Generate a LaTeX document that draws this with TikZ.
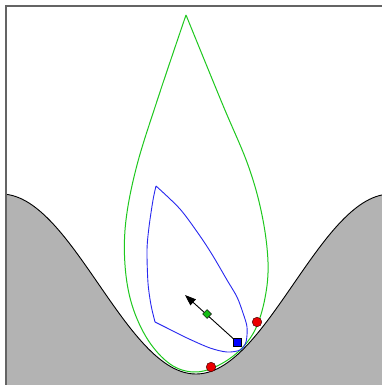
\documentclass[tikz,border=0pt]{standalone}
\usetikzlibrary{arrows.meta,shapes.geometric}
\definecolor{groundgray}{RGB}{179,179,179}
\definecolor{framegray}{RGB}{100,100,100}
\definecolor{leafgreen}{RGB}{30,200,30}
\definecolor{leafblue}{RGB}{40,40,240}
\definecolor{markred}{RGB}{235,0,0}
\definecolor{markgreen}{RGB}{20,190,20}
\begin{document}
\begin{tikzpicture}[x=1pt,y=-1pt,
  groundline/.style={black,line width=0.9pt},
  greencurve/.style={leafgreen,line width=1pt},
  bluecurve/.style={leafblue,line width=0.9pt},
  redmark/.style={circle,draw=black!70!red,fill=markred,line width=0.5pt,minimum size=9.5pt,inner sep=0pt},
  squaremark/.style={rectangle,draw=black,fill=blue,line width=0.5pt,minimum size=7.5pt,inner sep=0pt},
  diamondmark/.style={diamond,draw=black,fill=markgreen,line width=0.5pt,minimum size=9pt,inner sep=0pt},
  arrowline/.style={black,line width=0.9pt,-{Triangle[length=11pt,width=8pt]}}]
\useasboundingbox (0,0) rectangle (382,385);
\fill[white] (0,0) rectangle (382,385);
% ground
\fill[groundgray] (6,385) -- plot[domain=6:382,samples=120] (\x,{374-90*(1-cos(((\x-196)/195)*180))}) -- (382,385) -- cycle;
\draw[groundline] plot[domain=6:382,samples=120] (\x,{374-90*(1-cos(((\x-196)/195)*180))});
% green teardrop
\draw[greencurve] plot[smooth,tension=0.6] coordinates {(186,15) (158,98) (137,165) (126,220) (125,265) (132,305) (148,340) (170,364) (193,372) (215,367) (238,352) (255,330) (265,298) (268,262) (262,215) (248,165) (222,103) (186,15)};
% blue leaf
\draw[bluecurve] plot[smooth,tension=0.5] coordinates {(156,186) (153,200) (149,227) (147,250) (148,283) (151,305) (155,322)}
  plot[smooth,tension=0.5] coordinates {(155,322) (167,328) (187,338) (210,348) (227,352) (240,350) (246,342) (247,327) (243,313) (237,297) (227,280) (213,256) (200,236) (180,209) (156,186)};
% markers
\coordinate (tip) at (185,295);
\node[squaremark] (sq) at (237,342) {};
\draw[arrowline] (sq.center) -- (tip);
\node[squaremark] (sq2) at (237,342) {};
\node[diamondmark] (dm) at (207,314) {};
\node[redmark] (r1) at (257,322) {};
\node[redmark] (r2) at (211,367) {};
% frame
\draw[framegray,line width=1.6pt] (5.8,385) -- (5.8,5.8) -- (382,5.8);
\end{tikzpicture}
\end{document}
